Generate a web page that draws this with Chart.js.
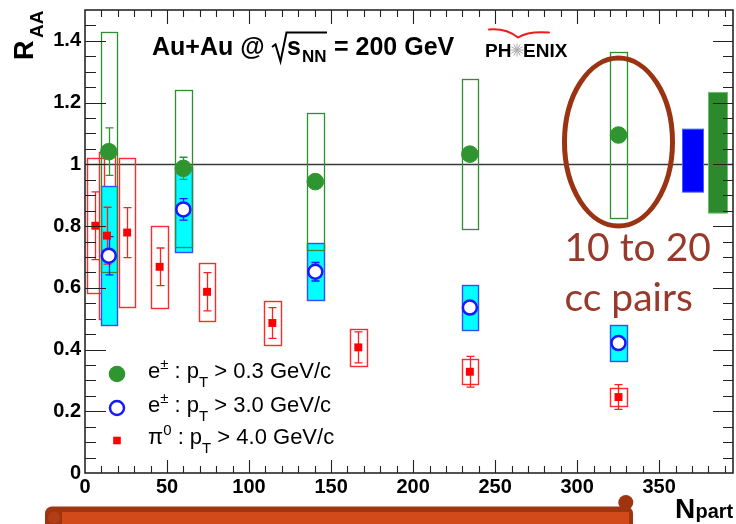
<!DOCTYPE html>
<html>
<head>
<meta charset="utf-8">
<script src="https://cdn.jsdelivr.net/npm/chart.js@4/dist/chart.umd.min.js"></script>
<style>
  html, body { margin: 0; padding: 0; background: #fff; }
  #c { display: block; }
</style>
</head>
<body>
<canvas id="c" width="736" height="524"></canvas>
<script>
// Heavy-flavour electron and pi0 nuclear modification factor vs centrality (Au+Au, 200 GeV)

// Electrons: centrality classes 0-10, 10-20, 20-40, 40-60, 60-92 %
const npartElectron = [325.2, 234.6, 140.4, 59.95, 14.5];
// e+- with pT > 0.3 GeV/c
const raaLowPt      = [1.095, 1.033, 0.944, 0.987, 1.041];
const raaLowPtStat  = [0.02, 0.02, 0.02, 0.036, 0.077];
const raaLowPtSys   = [0.27, 0.243, 0.221, 0.255, 0.389];
// e+- with pT > 3.0 GeV/c
const raaHighPt     = [0.421, 0.536, 0.652, 0.854, 0.704];
const raaHighPtStat = [0.015, 0.02, 0.03, 0.035, 0.062];
const raaHighPtSys  = [0.058, 0.073, 0.093, 0.137, 0.225];

// pi0 with pT > 4.0 GeV/c
const npartPi0   = [325.2, 234.6, 166.6, 114.2, 74.4, 45.5, 25.7, 13.4, 6.3];
const raaPi0     = [0.246, 0.328, 0.407, 0.486, 0.587, 0.668, 0.779, 0.769, 0.801];
const raaPi0Stat = [0.04, 0.05, 0.05, 0.05, 0.062, 0.061, 0.081, 0.092, 0.11];
const raaPi0Sys  = [0.03, 0.04, 0.061, 0.07, 0.093, 0.133, 0.242, 0.27, 0.218];

// Global (normalisation) uncertainties drawn at the right edge: [low, high]
const globalSysHigh = [0.910, 1.114];   // e+- pT > 3.0
const globalSysLow  = [0.842, 1.233];   // e+- pT > 0.3

// Axis tick labels
const xTickValues = [0, 50, 100, 150, 200, 250, 300, 350];
const yTickValues = [0, 0.2, 0.4, 0.6, 0.8, 1, 1.2, 1.4];

const SANS = '"Liberation Sans", Arial, Helvetica, sans-serif';
const GREEN = '#2f9530';
const BLUE = '#1818ff';
const RED = '#ff0000';
const BOX_HALF = 5;   // half width of systematic boxes in Npart units

const pts = (xs, ys) => xs.map((x, i) => ({ x, y: ys[i] }));

function crisp(v) { return Math.round(v) + 0.5; }

function drawBox(ctx, X, Y, xc, lo, hi, fill, stroke, lw) {
  const l = crisp(X(xc - BOX_HALF)), r = crisp(X(xc + BOX_HALF));
  const t = crisp(Y(hi)), b = crisp(Y(lo));
  if (fill) { ctx.fillStyle = fill; ctx.fillRect(l, t, r - l, b - t); }
  if (stroke) { ctx.strokeStyle = stroke; ctx.lineWidth = lw; ctx.strokeRect(l, t, r - l, b - t); }
}

function drawErr(ctx, X, Y, x, v, e, color) {
  const px = crisp(X(x)), t = Y(v + e), b = Y(v - e);
  ctx.strokeStyle = color; ctx.lineWidth = 1.3;
  ctx.beginPath();
  ctx.moveTo(px, t); ctx.lineTo(px, b);
  ctx.moveTo(px - 4, t); ctx.lineTo(px + 4, t);
  ctx.moveTo(px - 4, b); ctx.lineTo(px + 4, b);
  ctx.stroke();
}

// Draws text pieces with super/subscripts in sequence
function richText(ctx, x, y, parts, size) {
  let cx = x;
  for (const p of parts) {
    const s = p.s ? Math.round(size * 0.68) : size;
    ctx.font = `${p.bold ? 'bold ' : ''}${s}px ${SANS}`;
    ctx.fillText(p.t, cx, y + (p.s === 'sup' ? -9 : p.s === 'sub' ? 9 : 0));
    cx += ctx.measureText(p.t).width;
  }
}

const physPlugin = {
  id: 'physDecor',
  beforeDatasetsDraw(chart) {
    const ctx = chart.ctx, a = chart.chartArea;
    const X = v => chart.scales.x.getPixelForValue(v);
    const Y = v => chart.scales.y.getPixelForValue(v);
    ctx.save();

    // reference line at R_AA = 1
    ctx.strokeStyle = '#3a3a3a'; ctx.lineWidth = 1.4;
    ctx.beginPath(); ctx.moveTo(a.left, crisp(Y(1))); ctx.lineTo(a.right, crisp(Y(1))); ctx.stroke();

    // global uncertainties
    {
      const l = crisp(X(364)), r = crisp(X(377));
      ctx.fillStyle = '#0000ff';
      ctx.fillRect(l, Y(globalSysHigh[1]), r - l, Y(globalSysHigh[0]) - Y(globalSysHigh[1]));
      ctx.strokeStyle = '#4060ff'; ctx.lineWidth = 1;
      ctx.strokeRect(l, Y(globalSysHigh[1]), r - l, Y(globalSysHigh[0]) - Y(globalSysHigh[1]));
      const l2 = crisp(X(379.5)), r2 = crisp(X(391.5));
      ctx.fillStyle = '#2c8a2c';
      ctx.fillRect(l2, Y(globalSysLow[1]), r2 - l2, Y(globalSysLow[0]) - Y(globalSysLow[1]));
      ctx.strokeStyle = '#6cbf6c';
      ctx.strokeRect(l2, Y(globalSysLow[1]), r2 - l2, Y(globalSysLow[0]) - Y(globalSysLow[1]));
    }

    // pi0 systematic boxes
    npartPi0.forEach((x, i) =>
      drawBox(ctx, X, Y, x, raaPi0[i] - raaPi0Sys[i], raaPi0[i] + raaPi0Sys[i], null, '#ff2b2b', 1.4));
    // high-pT electron systematic boxes (filled)
    npartElectron.forEach((x, i) =>
      drawBox(ctx, X, Y, x, raaHighPt[i] - raaHighPtSys[i], raaHighPt[i] + raaHighPtSys[i], '#00ffff', '#3050ff', 1.4));
    // low-pT electron systematic boxes (outline)
    npartElectron.forEach((x, i) =>
      drawBox(ctx, X, Y, x, raaLowPt[i] - raaLowPtSys[i], raaLowPt[i] + raaLowPtSys[i], null, '#2f8f30', 1.3));

    // statistical error bars
    npartPi0.forEach((x, i) => drawErr(ctx, X, Y, x, raaPi0[i], raaPi0Stat[i], '#ff2020'));
    npartElectron.forEach((x, i) => drawErr(ctx, X, Y, x, raaHighPt[i], raaHighPtStat[i], BLUE));
    npartElectron.forEach((x, i) => drawErr(ctx, X, Y, x, raaLowPt[i], raaLowPtStat[i], GREEN));
    ctx.restore();
  },
  afterDraw(chart) {
    const ctx = chart.ctx, a = chart.chartArea;
    const X = v => chart.scales.x.getPixelForValue(v);
    const Y = v => chart.scales.y.getPixelForValue(v);
    ctx.save();

    // frame
    ctx.strokeStyle = '#1a1a1a'; ctx.lineWidth = 1.5;
    ctx.strokeRect(a.left, a.top, a.right - a.left, a.bottom - a.top);

    // inward ticks on all four sides
    ctx.strokeStyle = '#222'; ctx.lineWidth = 1.1;
    ctx.beginPath();
    for (let k = 1; k < 30; k++) {
      const y = crisp(Y(k * 0.05)), major = k % 4 === 0;
      ctx.moveTo(a.left, y); ctx.lineTo(a.left + (major ? 21 : 11), y);
      ctx.moveTo(a.right, y); ctx.lineTo(a.right - (major ? 20 : 10), y);
    }
    for (let v = 10; v <= 390; v += 10) {
      const x = crisp(X(v)), major = v % 50 === 0;
      ctx.moveTo(x, a.bottom); ctx.lineTo(x, a.bottom - (major ? 13 : 7));
      ctx.moveTo(x, a.top); ctx.lineTo(x, a.top + (major ? 14 : 7));
    }
    ctx.stroke();

    ctx.fillStyle = '#000';
    ctx.textBaseline = 'alphabetic';
    ctx.textAlign = 'left';

    // y-axis title R_AA
    ctx.save();
    ctx.translate(33, 60); ctx.rotate(-Math.PI / 2);
    ctx.font = `bold 27px ${SANS}`; ctx.fillText('R', 0, 0);
    ctx.font = `bold 19px ${SANS}`; ctx.fillText('AA', 22, 10);
    ctx.restore();

    // x-axis title N_part
    ctx.font = `bold 28px ${SANS}`; ctx.fillText('N', 675, 518);
    ctx.font = `bold 20px ${SANS}`; ctx.fillText('part', 695.5, 518);

    // plot title
    ctx.font = `bold 25px ${SANS}`; ctx.fillText('Au+Au @', 152, 55);
    ctx.lineWidth = 2; ctx.strokeStyle = '#000';
    ctx.beginPath();
    ctx.moveTo(272, 47); ctx.lineTo(275.5, 44.5); ctx.lineTo(280.5, 61.5);
    ctx.lineTo(286.5, 32.5); ctx.lineTo(327, 32.5);
    ctx.stroke();
    ctx.fillText('s', 287, 55);
    ctx.font = `bold 17px ${SANS}`; ctx.fillText('NN', 302, 62);
    ctx.font = `bold 25px ${SANS}`; ctx.fillText('= 200 GeV', 334, 55);

    // experiment logo
    ctx.font = `bold 19px ${SANS}`;
    ctx.fillText('PH', 485, 57);
    ctx.fillText('ENIX', 523, 57);
    ctx.strokeStyle = '#a8a8a8'; ctx.lineWidth = 1;
    ctx.beginPath();
    for (let k = 0; k < 12; k++) {
      const ang = k * Math.PI / 6;
      ctx.moveTo(517, 50); ctx.lineTo(517 + 6.5 * Math.cos(ang), 50 + 6.5 * Math.sin(ang));
    }
    ctx.stroke();
    ctx.strokeStyle = '#ee1c1c'; ctx.lineWidth = 2; ctx.lineCap = 'round';
    ctx.beginPath();
    ctx.moveTo(489, 29.5); ctx.quadraticCurveTo(506, 28, 518, 37.5);
    ctx.quadraticCurveTo(528, 31, 549, 32.5);
    ctx.stroke();
    ctx.lineCap = 'butt';

    // legend
    const lx = a.left + 32;
    const rows = [374, 408, 440.5];
    ctx.fillStyle = GREEN;
    ctx.beginPath(); ctx.arc(lx, rows[0], 8.3, 0, 2 * Math.PI); ctx.fill();
    ctx.strokeStyle = BLUE; ctx.lineWidth = 2.5; ctx.fillStyle = '#fff';
    ctx.beginPath(); ctx.arc(lx, rows[1], 7, 0, 2 * Math.PI); ctx.fill(); ctx.stroke();
    ctx.fillStyle = RED; ctx.fillRect(lx - 3.8, rows[2] - 3.8, 7.6, 7.6);
    ctx.fillStyle = '#000';
    const tx = a.left + 63;
    richText(ctx, tx, rows[0] + 4, [{ t: 'e' }, { t: '\u00B1', s: 'sup' }, { t: ' : p' }, { t: 'T', s: 'sub' }, { t: ' > 0.3 GeV/c' }], 22);
    richText(ctx, tx, rows[1] + 4, [{ t: 'e' }, { t: '\u00B1', s: 'sup' }, { t: ' : p' }, { t: 'T', s: 'sub' }, { t: ' > 3.0 GeV/c' }], 22);
    richText(ctx, tx, rows[2] + 3, [{ t: '\u03C0' }, { t: '0', s: 'sup' }, { t: ' : p' }, { t: 'T', s: 'sub' }, { t: ' > 4.0 GeV/c' }], 22);

    // highlight around the most central bin
    const cx = X(npartElectron[0]), cy = Y(1.072);
    ctx.strokeStyle = '#993311'; ctx.lineWidth = 5;
    ctx.beginPath(); ctx.ellipse(cx, cy, 54, 84, 0, 0, 2 * Math.PI); ctx.stroke();
    ctx.fillStyle = '#973a2c';
    ctx.font = `39px Lato, "Open Sans", sans-serif`;
    ctx.fillText('10 to 20', cx - 54, 261);
    ctx.fillText('cc pairs', cx - 54, 311);

    // scroll banner at the bottom
    ctx.fillStyle = '#9e3410';
    ctx.beginPath(); ctx.roundRect(45, 506.5, 588, 30, 7); ctx.fill();
    ctx.beginPath(); ctx.arc(625.8, 502.5, 7.5, 0, 2 * Math.PI); ctx.fill();
    ctx.fillStyle = '#d24a1a'; ctx.fillRect(62, 512, 567, 12);
    ctx.fillStyle = '#b23e15';
    ctx.beginPath(); ctx.arc(54, 517.5, 6, 0, 2 * Math.PI); ctx.fill();

    ctx.restore();
  }
};

const tickFont = { family: SANS, size: 20, weight: 'bold' };

new Chart(document.getElementById('c'), {
  type: 'scatter',
  data: {
    datasets: [
      {
        label: 'e\u00B1 : pT > 0.3 GeV/c',
        data: pts(npartElectron, raaLowPt),
        pointRadius: 8.3, pointBackgroundColor: GREEN, pointBorderColor: GREEN, pointBorderWidth: 1
      },
      {
        label: 'e\u00B1 : pT > 3.0 GeV/c',
        data: pts(npartElectron, raaHighPt),
        pointRadius: 7, pointBackgroundColor: '#fff', pointBorderColor: BLUE, pointBorderWidth: 2.5
      },
      {
        label: '\u03C00 : pT > 4.0 GeV/c',
        data: pts(npartPi0, raaPi0),
        pointStyle: 'rect', pointRadius: 5.6, pointBackgroundColor: RED, pointBorderColor: RED, pointBorderWidth: 0
      }
    ]
  },
  options: {
    responsive: false,
    animation: false,
    devicePixelRatio: 1,
    events: [],
    layout: { autoPadding: false, padding: { top: 10, right: 3, left: 0, bottom: 0 } },
    plugins: { legend: { display: false }, tooltip: { enabled: false } },
    scales: {
      x: {
        type: 'linear', position: 'bottom', min: 0, max: 395,
        afterFit(s) { s.height = 51; s.paddingLeft = 0; s.paddingRight = 0; },
        afterBuildTicks(s) { s.ticks = xTickValues.map(v => ({ value: v })); },
        ticks: { font: tickFont, color: '#000', padding: 2, maxRotation: 0, autoSkip: false,
                 callback: v => String(v) },
        grid: { display: false, drawTicks: false },
        border: { display: false }
      },
      y: {
        type: 'linear', min: 0, max: 1.5,
        afterFit(s) { s.width = 85; s.paddingTop = 0; s.paddingBottom = 0; },
        afterBuildTicks(s) { s.ticks = yTickValues.map(v => ({ value: v })); },
        ticks: { font: tickFont, color: '#000', padding: 4, autoSkip: false,
                 callback: v => String(Math.round(v * 10) / 10) },
        grid: { display: false, drawTicks: false },
        border: { display: false }
      }
    }
  },
  plugins: [physPlugin]
});
</script>
</body>
</html>
